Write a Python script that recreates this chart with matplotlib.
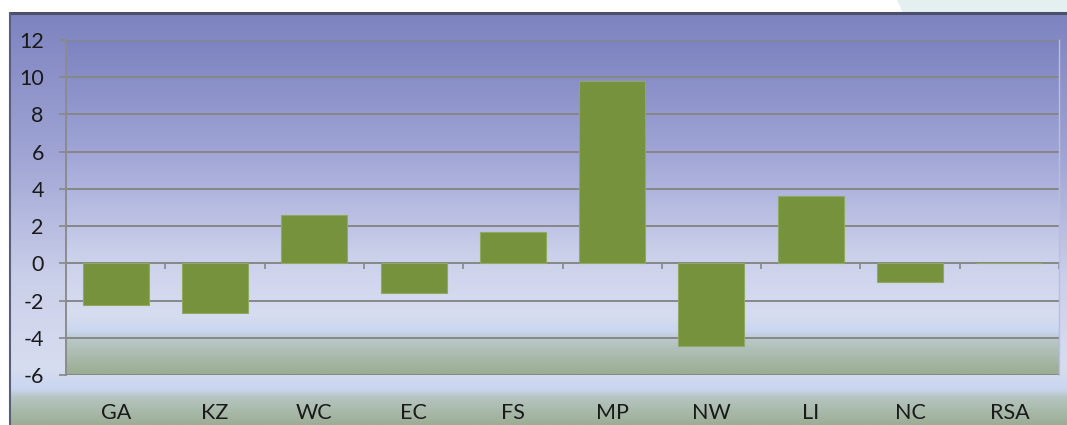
import numpy as np
import matplotlib.pyplot as plt
from matplotlib.colors import LinearSegmentedColormap
from matplotlib.patches import Polygon
import matplotlib.transforms as mtransforms

categories = ["GA", "KZ", "WC", "EC", "FS", "MP", "NW", "LI", "NC", "RSA"]
values = [-2.26, -2.69, 2.6, -1.62, 1.68, 9.82, -4.42, 3.6, -0.98, 0.0]
yticks = [-6, -4, -2, 0, 2, 4, 6, 8, 10, 12]

plt.rcParams['font.family'] = ['Lato', 'DejaVu Sans']

W, H = 1067, 425
fig = plt.figure(figsize=(W / 100, H / 100), dpi=100)
fig.patch.set_facecolor('white')

# slide corner decoration
fig.patches.append(Polygon([(897 / W, 1), (1, 1), (1, 1 - 13 / H), (903 / W, 1 - 13 / H)],
                           closed=True, transform=fig.transFigure, facecolor='#e4f0f0',
                           edgecolor='none', zorder=-20))

def grad_cmap(stops):
    return LinearSegmentedColormap.from_list('g', stops)

fig_cmap = grad_cmap([(0.0, '#7d83bf'), (0.35, '#a0a5d5'), (0.65, '#cbd0ea'),
                      (0.86, '#d7ddf0'), (0.915, '#c9d5ef'), (0.935, '#b5c5c0'),
                      (1.0, '#9cae96')])
plot_cmap = grad_cmap([(0.0, '#7c83bf'), (0.35, '#a2a7d7'), (0.65, '#ccd1eb'),
                       (0.82, '#d7ddf0'), (0.87, '#cad6ef'), (0.9, '#b7c6c4'),
                       (1.0, '#9aac92')])

grad = np.linspace(0, 1, 256).reshape(-1, 1)

bg = fig.add_axes([10 / W, 0, 1 - 10 / W, 412 / H], zorder=-10)
bg.imshow(grad, cmap=fig_cmap, aspect='auto', extent=[0, 1, 1, 0])
bg.set_xlim(0, 1)
bg.set_ylim(1, 0)
bg.axis('off')
# frame border (top and left)
fig.add_artist(plt.Line2D([10 / W, 1], [412 / H, 412 / H], transform=fig.transFigure,
                          color='#4b4f6a', lw=2.2))
fig.add_artist(plt.Line2D([10 / W, 10 / W], [0, 412 / H], transform=fig.transFigure,
                          color='#5a5e78', lw=1.5))

ax = fig.add_axes([66 / W, 50 / H, (1059 - 66) / W, 335 / H])
x = np.arange(len(categories))
ax.set_xlim(-0.5, len(categories) - 0.5)
ax.set_ylim(-6, 12)
ax.imshow(grad, cmap=plot_cmap, aspect='auto', extent=[-0.5, len(categories) - 0.5, -6, 12],
          zorder=0)

for yv in yticks:
    ax.axhline(yv, color='#878787', lw=1.4, zorder=1)

ax.bar(x, values, width=0.665, color='#76923c', edgecolor='#8fa862', linewidth=0.8, zorder=3)

# category boundary ticks on the zero line
bounds = np.arange(len(categories) + 1) - 0.5
ax.plot(bounds, np.zeros_like(bounds), ls='none', marker=3, ms=4.5, mew=1.2,
        color='#878787', zorder=2, clip_on=False)

ax.set_yticks(yticks)
ax.set_yticklabels([str(v) for v in yticks], fontsize=15.5, color='#1a1a1a')
ax.set_xticks(x)
ax.set_xticklabels(categories, fontsize=15.5, color='#1a1a1a')
ax.tick_params(axis='y', length=5, width=1.2, color='#878787', pad=11)
ax.tick_params(axis='x', length=0, pad=20)

for s in ['top', 'bottom']:
    ax.spines[s].set_visible(False)
ax.spines['left'].set_color('#8c8c8c')
ax.spines['left'].set_linewidth(1.4)
ax.spines['right'].set_color('#b9bde0')
ax.spines['right'].set_linewidth(1.0)

fig.savefig('out.png', dpi=100)
